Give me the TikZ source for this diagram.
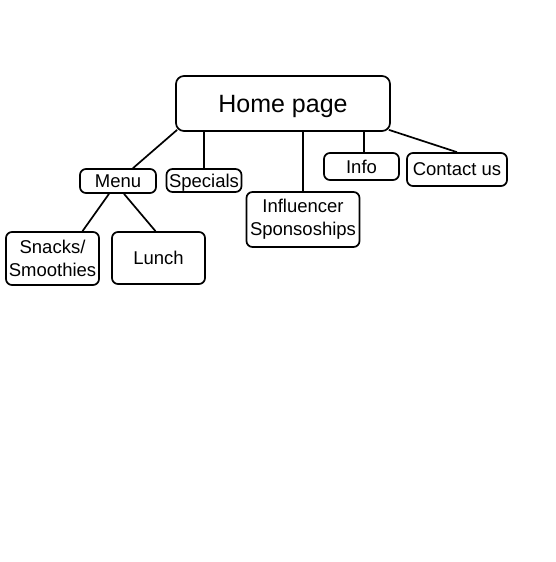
\documentclass[tikz,border=0pt]{standalone}
\usepackage{fontspec}
\setmainfont{Liberation Sans}
\usetikzlibrary{
  positioning,
}

\begin{document}
\begin{tikzpicture}[
  x=1pt, y=-1pt,
  box/.style={draw, line width=1.7pt, rounded corners=6pt, inner sep=0pt, align=center,
    font=\fontsize{18.5}{23}\selectfont},
  link/.style={line width=1.7pt},
]
\useasboundingbox (0,0) rectangle (556,562);
\node[box, rounded corners=8pt, minimum width=214pt, minimum height=55pt, text height=18pt, text depth=0pt, font=\fontsize{25}{30}\selectfont] (home) at (283,103.5) {Home page};
\node[box, minimum width=76pt, minimum height=24pt] (menu) at (118,181) {Menu};
\node[box, minimum width=75pt, minimum height=23pt, text height=13pt, text depth=0pt] (specials) at (204,180.5) {Specials};
\node[box, minimum width=113pt, minimum height=55pt] (influencer) at (303,219.5) {Influencer\\Sponsoships};
\node[box, minimum width=75pt, minimum height=27pt] (info) at (361.5,166.5) {Info};
\node[box, minimum width=100pt, minimum height=33pt] (contact) at (457,169.5) {Contact us};
\node[box, minimum width=93pt, minimum height=53pt] (snacks) at (52.5,258.5) {Snacks/\\Smoothies};
\node[box, minimum width=93pt, minimum height=52pt] (lunch) at (158.5,258) {Lunch};
\draw[link] ([xshift=2pt,yshift=2pt]home.south west) -- ([xshift=15pt]menu.north);
\draw[link] (specials.north) -- (specials.north |- home.south);
\draw[link] (influencer.north) -- (influencer.north |- home.south);
\draw[link] ([xshift=2.5pt]info.north) -- ([xshift=2.5pt]info.north |- home.south);
\draw[link] ([xshift=-2pt,yshift=2pt]home.south east) -- (contact.north);
\draw[link] ([xshift=-9pt]menu.south) -- ([xshift=30pt]snacks.north);
\draw[link] ([xshift=6pt]menu.south) -- ([xshift=-3pt]lunch.north);
\end{tikzpicture}
\end{document}
